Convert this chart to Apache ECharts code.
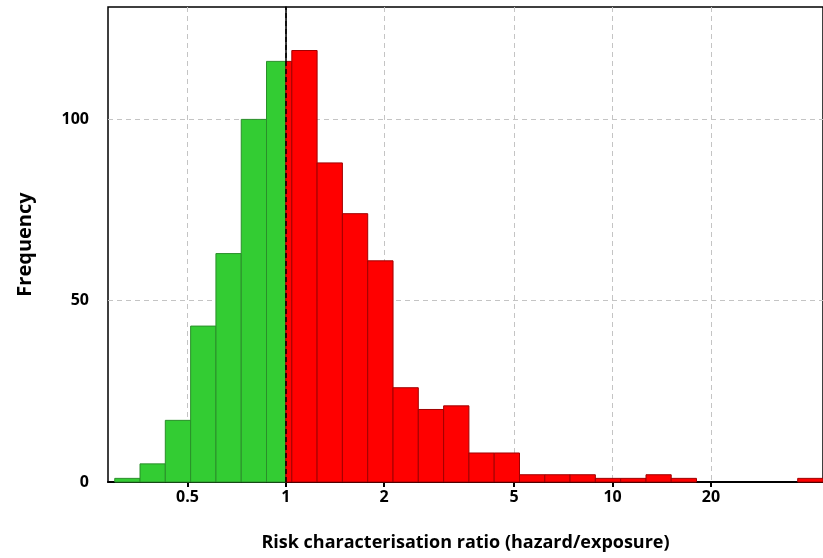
<!DOCTYPE html>
<html>
<head>
<meta charset="utf-8">
<script src="https://cdn.jsdelivr.net/npm/echarts@6/dist/echarts.min.js"></script>
<style>
  html, body { margin: 0; padding: 0; background: #fff; }
  #chart { width: 823px; height: 558px; }
</style>
</head>
<body>
<div id="chart"></div>
<script>
// bin edges of the histogram (ratio values, log-spaced)
var binEdges = [0.2995, 0.3579, 0.4277, 0.5113, 0.6111, 0.7304, 0.8728, 1.0432,
  1.2467, 1.490, 1.781, 2.129, 2.544, 3.041, 3.634, 4.343, 5.191, 6.204, 7.413,
  8.860, 10.59, 12.66, 15.12, 18.07, 21.60, 25.81, 30.85, 36.87, 44.07];
// frequency in each bin
var counts = [1, 5, 17, 43, 63, 100, 116, 119, 88, 74, 61, 26, 20, 21, 8, 8,
  2, 2, 2, 1, 1, 2, 1, 0, 0, 0, 0, 1];
var xTicks = [0.5, 1, 2, 5, 10, 20];
var yTicks = [0, 50, 100];
var threshold = 1; // ratio = 1, below green, above red
var xMinRatio = 0.2856;

var log10 = function (v) { return Math.log(v) / Math.LN10; };

var binData = counts.map(function (c, i) {
  return [log10(binEdges[i]), log10(binEdges[i + 1]), c];
});

var font = '"Open Sans", sans-serif';
var greenStyle = { fill: '#33cc33', stroke: '#2a8f2a', lineWidth: 1 };
var redStyle = { fill: '#ff0000', stroke: '#a00000', lineWidth: 1 };

function renderBin(params, api) {
  var lo = api.value(0), hi = api.value(1), c = api.value(2);
  if (!c) return;
  var t = log10(threshold);
  var parts = [];
  if (hi <= t) parts.push([lo, hi, greenStyle]);
  else if (lo >= t) parts.push([lo, hi, redStyle]);
  else { parts.push([lo, t, greenStyle]); parts.push([t, hi, redStyle]); }
  return {
    type: 'group',
    children: parts.map(function (p) {
      var a = api.coord([p[0], c]);
      var b = api.coord([p[1], 0]);
      return {
        type: 'rect',
        shape: { x: a[0], y: a[1], width: b[0] - a[0], height: b[1] - a[1] },
        style: p[2]
      };
    })
  };
}

var chart = echarts.init(document.getElementById('chart'));
chart.setOption({
  animation: false,
  backgroundColor: '#fff',
  grid: {
    left: 108, right: -1, top: 7, bottom: 76,
    show: true, borderColor: '#000', borderWidth: 1.5, backgroundColor: '#fff'
  },
  xAxis: {
    type: 'value',
    min: log10(xMinRatio),
    max: log10(binEdges[binEdges.length - 1]),
    name: 'Risk characterisation ratio (hazard/exposure)',
    nameLocation: 'middle',
    nameGap: 52,
    nameTextStyle: { fontFamily: font, fontWeight: 'bold', fontSize: 18, color: '#000' },
    axisLine: { lineStyle: { color: '#000', width: 2 } },
    axisTick: {
      show: true, length: 5, lineStyle: { color: '#000', width: 2 },
      customValues: xTicks.map(log10)
    },
    axisLabel: {
      customValues: xTicks.map(log10),
      formatter: function (v) { return String(Math.round(Math.pow(10, v) * 10) / 10); },
      fontFamily: font, fontWeight: 'bold', fontSize: 16, color: '#000', margin: 7
    },
    splitLine: { show: true, lineStyle: { color: '#c4c4c4', type: [5, 4], width: 1 } }
  },
  yAxis: {
    type: 'value',
    min: 0,
    max: 131,
    name: 'Frequency',
    nameLocation: 'middle',
    nameGap: 73,
    nameTextStyle: { fontFamily: font, fontWeight: 'bold', fontSize: 20, color: '#000' },
    axisLine: { show: true, lineStyle: { color: '#000', width: 1.5 } },
    axisTick: {
      show: true, length: 11, lineStyle: { color: '#000', width: 2 },
      customValues: yTicks
    },
    axisLabel: {
      customValues: yTicks,
      fontFamily: font, fontWeight: 'bold', fontSize: 16, color: '#000', margin: 19
    },
    splitLine: { show: true, lineStyle: { color: '#c4c4c4', type: [5, 4], width: 1 } }
  },
  series: [{
    type: 'custom',
    renderItem: renderBin,
    encode: { x: [0, 1], y: 2 },
    data: binData,
    z: 2,
    markLine: {
      silent: true,
      symbol: 'none',
      label: { show: false },
      lineStyle: { color: '#000', type: [5, 3], width: 1.5 },
      data: [{ xAxis: log10(threshold) }],
      z: 5
    }
  }]
});
</script>
</body>
</html>
